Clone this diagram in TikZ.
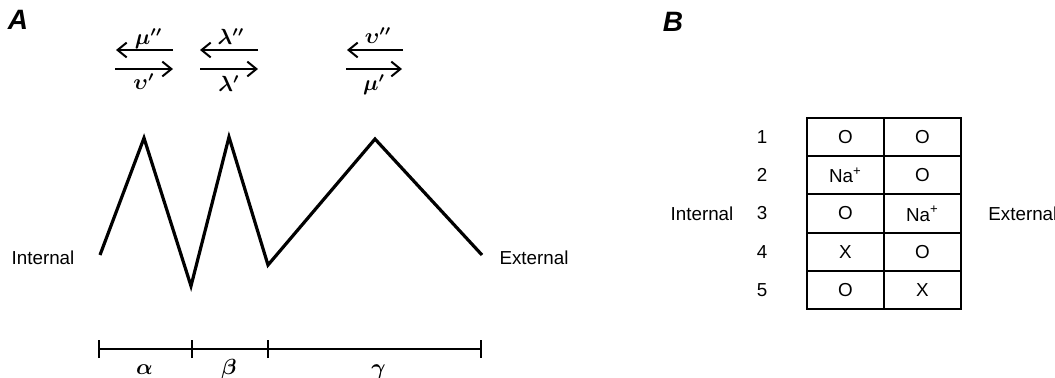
\documentclass[tikz,border=0pt]{standalone}
\usepackage{amsmath,amssymb}
\usepackage{fontspec}
\setmainfont{Liberation Sans}
\usepackage{tikz}
\usetikzlibrary{arrows.meta,positioning}
\tikzset{
  >={Straight Barb[length=1.6mm,width=2.6mm]},
  rate/.style={->,line width=1pt},
  barrier/.style={line width=1.6pt,line join=miter},
  scalebar/.style={{Bar[width=9pt]}-,line width=1pt},
  panel/.style={font=\fontsize{14}{16}\selectfont\bfseries\itshape,inner sep=0pt},
  side/.style={font=\fontsize{9.4}{11}\selectfont,inner sep=0pt},
  cell/.style={draw,line width=1pt,minimum width=38.5pt,minimum height=19.1pt,
               inner sep=0pt,outer sep=0pt,font=\fontsize{9.4}{11}\selectfont},
  sym/.style={font=\fontsize{10.5}{12}\selectfont,inner sep=0pt}
}

\begin{document}
\begin{tikzpicture}[x=0.5pt,y=-0.5pt]
  \useasboundingbox (0,0) rectangle (1055,377);
  \node[panel] (pa) at (18,20) {A};
  \node[panel] (pb) at (673,22) {B};

  \coordinate (mu2a) at (173,50); \coordinate (mu2b) at (116,50);
  \coordinate (up1a) at (115,69); \coordinate (up1b) at (173,69);
  \coordinate (la2a) at (258,50); \coordinate (la2b) at (200,50);
  \coordinate (la1a) at (200,69); \coordinate (la1b) at (258,69);
  \coordinate (up2a) at (403,50); \coordinate (up2b) at (347,50);
  \coordinate (mu1a) at (346,69); \coordinate (mu1b) at (402,69);
  \draw[rate] (mu2a) -- node[sym,anchor=base,yshift=3pt,xshift=2pt] {$\boldsymbol{\mu''}$} (mu2b);
  \draw[rate] (up1a) -- node[sym,anchor=base,yshift=-10pt] {$\boldsymbol{\upsilon'}$} (up1b);
  \draw[rate] (la2a) -- node[sym,anchor=base,yshift=3pt,xshift=1pt] {$\boldsymbol{\lambda''}$} (la2b);
  \draw[rate] (la1a) -- node[sym,anchor=base,yshift=-11pt] {$\boldsymbol{\lambda'}$} (la1b);
  \draw[rate] (up2a) -- node[sym,anchor=base,yshift=3.5pt,xshift=1.5pt] {$\boldsymbol{\upsilon''}$} (up2b);
  \draw[rate] (mu1a) -- node[sym,anchor=base,yshift=-10.5pt] {$\boldsymbol{\mu'}$} (mu1b);

  \coordinate (z0) at (100,255); \coordinate (z1) at (144,138);
  \coordinate (z2) at (191,286); \coordinate (z3) at (229,137);
  \coordinate (z4) at (268,265); \coordinate (z5) at (375,139);
  \coordinate (z6) at (482,255);
  \draw[barrier] (z0) -- (z1) -- (z2) -- (z3) -- (z4) -- (z5) -- (z6);
  \node[side] (ina) at (43,258) {Internal};
  \node[side] (exa) at (534,258) {External};

  \coordinate (s0) at (98,349); \coordinate (s1) at (191,349);
  \coordinate (s2) at (267,349); \coordinate (s3) at (482,349);
  \draw[scalebar] (s0) -- node[sym,anchor=base,yshift=-12.5pt] {$\boldsymbol{\alpha}$} (s1);
  \draw[scalebar] (s1) -- node[sym,anchor=base,yshift=-12.5pt] {$\boldsymbol{\beta}$} (s2);
  \draw[scalebar,{Bar[width=9pt]}-{Bar[width=9pt]}] (s2) -- node[sym,anchor=base,yshift=-12.5pt,xshift=2pt] {$\boldsymbol{\gamma}$} (s3);

  \node[cell] (c11) at (845.5,137.1) {O};
  \node[cell,right=0pt of c11] (c12) {O};
  \node[cell,below=0pt of c11] (c21) {Na\textsuperscript{+}};
  \node[cell,right=0pt of c21] (c22) {O};
  \node[cell,below=0pt of c21] (c31) {O};
  \node[cell,right=0pt of c31] (c32) {Na\textsuperscript{+}};
  \node[cell,below=0pt of c31] (c41) {X};
  \node[cell,right=0pt of c41] (c42) {O};
  \node[cell,below=0pt of c41] (c51) {O};
  \node[cell,right=0pt of c51] (c52) {X};
  \node[side] (n1) at (762,137) {1};
  \node[side] (n2) at (762,175) {2};
  \node[side] (n3) at (762,213.5) {3};
  \node[side] (n4) at (762,252) {4};
  \node[side] (n5) at (762,290) {5};
  \node[side] (inb) at (702,214) {Internal};
  \node[side,anchor=west] (exb) at (988,214) {External};
\end{tikzpicture}
\end{document}
